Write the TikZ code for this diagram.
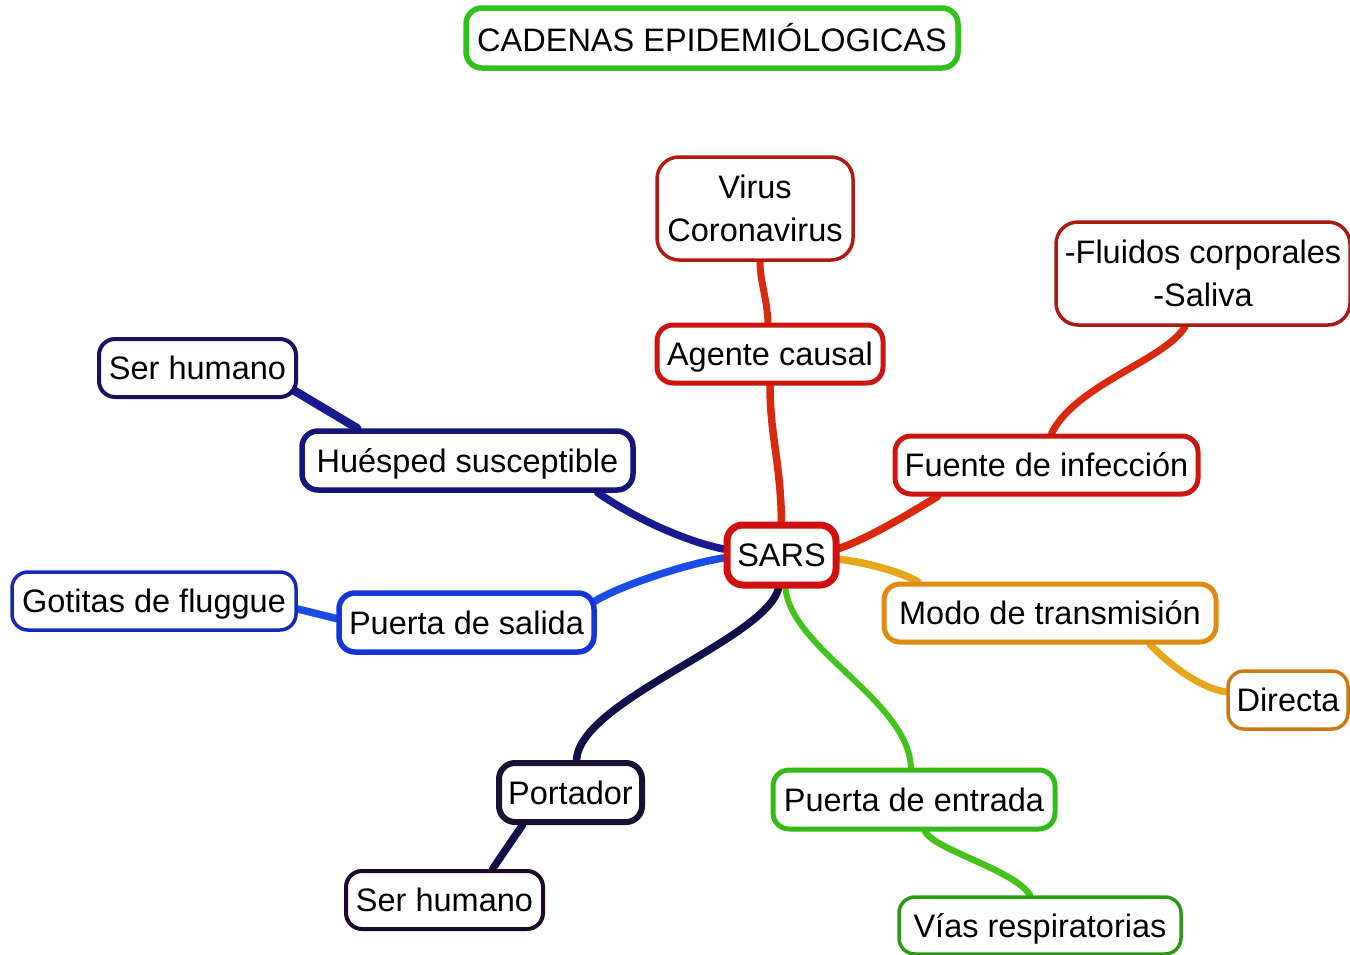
\documentclass[tikz,border=0pt]{standalone}
\usepackage{fontspec}
\setmainfont{Liberation Sans}
\usetikzlibrary{calc,backgrounds}
\definecolor{cTitle}{HTML}{2EC21A}
\definecolor{cVirus}{HTML}{B01A10}
\definecolor{cRed}{HTML}{CC1410}
\definecolor{cSars}{HTML}{D01010}
\definecolor{cFluid}{HTML}{A81A12}
\definecolor{cModo}{HTML}{E08A10}
\definecolor{cDir}{HTML}{CC7A14}
\definecolor{cEnt}{HTML}{33BB18}
\definecolor{cVias}{HTML}{2A9A14}
\definecolor{cPort}{HTML}{1A1030}
\definecolor{cSerB}{HTML}{1A0A28}
\definecolor{cSal}{HTML}{1435D8}
\definecolor{cGot}{HTML}{1428B8}
\definecolor{cHue}{HTML}{14147A}
\definecolor{cSerA}{HTML}{1A1060}
\definecolor{lRed}{HTML}{D92A0E}
\definecolor{lOra}{HTML}{E6A81A}
\definecolor{lGrn}{HTML}{44C41A}
\definecolor{lDark}{HTML}{10104A}
\definecolor{lBlue}{HTML}{1A4DE6}
\definecolor{lNavy}{HTML}{1A1A90}
\tikzset{
  box/.style={draw, fill=white, rounded corners=16pt, inner sep=0pt,
    font=\fontsize{32.5}{43}\selectfont, align=center, text=black},
  one/.style={box, text height=30pt, text depth=7pt},
  conn/.style={line width=7.5pt, line cap=round},
}
\begin{document}
\begin{tikzpicture}[x=1pt,y=-1pt]
\useasboundingbox (0,0) rectangle (1350,954);
% nodes
\node[box, draw=cTitle, line width=5.5pt, minimum width=492pt, minimum height=60pt] (title) at (712,38) {CADENAS EPIDEMIÓLOGICAS};
\node[box, draw=cVirus, line width=3.5pt, minimum width=196pt, minimum height=103pt, rounded corners=22pt] (virus) at (755,208.5) {Virus\\Coronavirus};
\node[one, draw=cRed, line width=5pt, minimum width=226pt, minimum height=58pt] (agente) at (770,354) {Agente causal};
\node[box, draw=cFluid, line width=3.5pt, minimum width=294pt, minimum height=103pt, rounded corners=22pt] (fluidos) at (1203,273.5) {-Fluidos corporales\\-Saliva};
\node[one, draw=cRed, line width=5pt, minimum width=303pt, minimum height=58pt] (fuente) at (1046.5,465) {Fuente de infección};
\node[one, draw=cSars, line width=7pt, minimum width=109pt, minimum height=60pt] (sars) at (781.5,555) {SARS};
\node[one, draw=cModo, line width=5pt, minimum width=332pt, minimum height=58pt] (modo) at (1050,613) {Modo de transmisión};
\node[one, draw=cDir, line width=3.5pt, minimum width=120pt, minimum height=58pt] (directa) at (1288,700) {Directa};
\node[one, draw=cEnt, line width=5pt, minimum width=282pt, minimum height=59pt] (entrada) at (914,799.5) {Puerta de entrada};
\node[one, draw=cVias, line width=3.5pt, minimum width=282pt, minimum height=57pt] (vias) at (1040,925.5) {Vías respiratorias};
\node[one, draw=cPort, line width=6pt, minimum width=143pt, minimum height=59pt] (portador) at (570.5,792.5) {Portador};
\node[one, draw=cSerB, line width=4pt, minimum width=197pt, minimum height=58pt] (serb) at (444.5,900) {Ser humano};
\node[one, draw=cSal, line width=5.5pt, minimum width=255pt, minimum height=59pt] (salida) at (466.5,622.5) {Puerta de salida};
\node[one, draw=cGot, line width=3.5pt, minimum width=284pt, minimum height=58pt] (gotitas) at (154,601) {Gotitas de fluggue};
\node[one, draw=cHue, line width=5.5pt, minimum width=331pt, minimum height=59pt] (huesped) at (467.5,460.5) {Huésped susceptible};
\node[one, draw=cSerA, line width=4pt, minimum width=197pt, minimum height=58pt] (sera) at (197.5,368) {Ser humano};
% connectors
\begin{scope}[on background layer]
\fill[white] (0,0) rectangle (1350,954);
\draw[conn, lRed] (sars.north) .. controls ($(sars.north)+(-1,-60)$) and ($(agente.south)+(0,50)$) .. (agente.south);
\draw[conn, lRed, line width=7pt] ($(agente.north)+(-2,0)$) .. controls ($(agente.north)+(-3,-25)$) and ($(virus.south)+(5,20)$) .. ($(virus.south)+(5,0)$);
\draw[conn, lRed] ($(sars.east)+(-2,-6)$) .. controls (870,538) and (915,510) .. ($(fuente.south west)+(45,0)$);
\draw[conn, lRed, line width=7pt] ($(fuente.north)+(5,0)$) .. controls (1075,385) and (1165,360) .. ($(fluidos.south)+(-18,0)$);
\draw[conn, lOra] ($(sars.east)+(-2,4)$) .. controls (870,563) and (900,572) .. ($(modo.north west)+(36,0)$);
\draw[conn, lOra, line width=7pt] ($(modo.south)+(100,0)$) .. controls (1170,665) and (1200,688) .. ($(directa.west)+(0,-8)$);
\draw[conn, lGrn, line width=6pt] ($(sars.south)+(4,0)$) .. controls (792,650) and (908,700) .. ($(entrada.north)+(-3,0)$);
\draw[conn, lGrn, line width=6.5pt] ($(entrada.south)+(11,0)$) .. controls (935,850) and (1015,870) .. ($(vias.north)+(-10,0)$);
\draw[conn, lDark] ($(sars.south)+(-3,0)$) .. controls (765,640) and (580,700) .. ($(portador.north)+(6,0)$);
\draw[conn, lDark] ($(portador.south)+(-48,0)$) -- ($(serb.north)+(48,0)$);
\draw[conn, lBlue] ($(sars.west)+(0,3)$) .. controls (690,563) and (620,585) .. ($(salida.east)+(-4,-20)$);
\draw[conn, lBlue] ($(salida.west)+(0,-4)$) -- ($(gotitas.east)+(0,8)$);
\draw[conn, lNavy] ($(sars.west)+(0,-6)$) .. controls (680,540) and (630,515) .. ($(huesped.south east)+(-38,0)$);
\draw[conn, lNavy, line width=8.5pt] ($(huesped.north west)+(58,0)$) -- ($(sera.east)+(-8,20)$);
\end{scope}
\end{tikzpicture}
\end{document}
